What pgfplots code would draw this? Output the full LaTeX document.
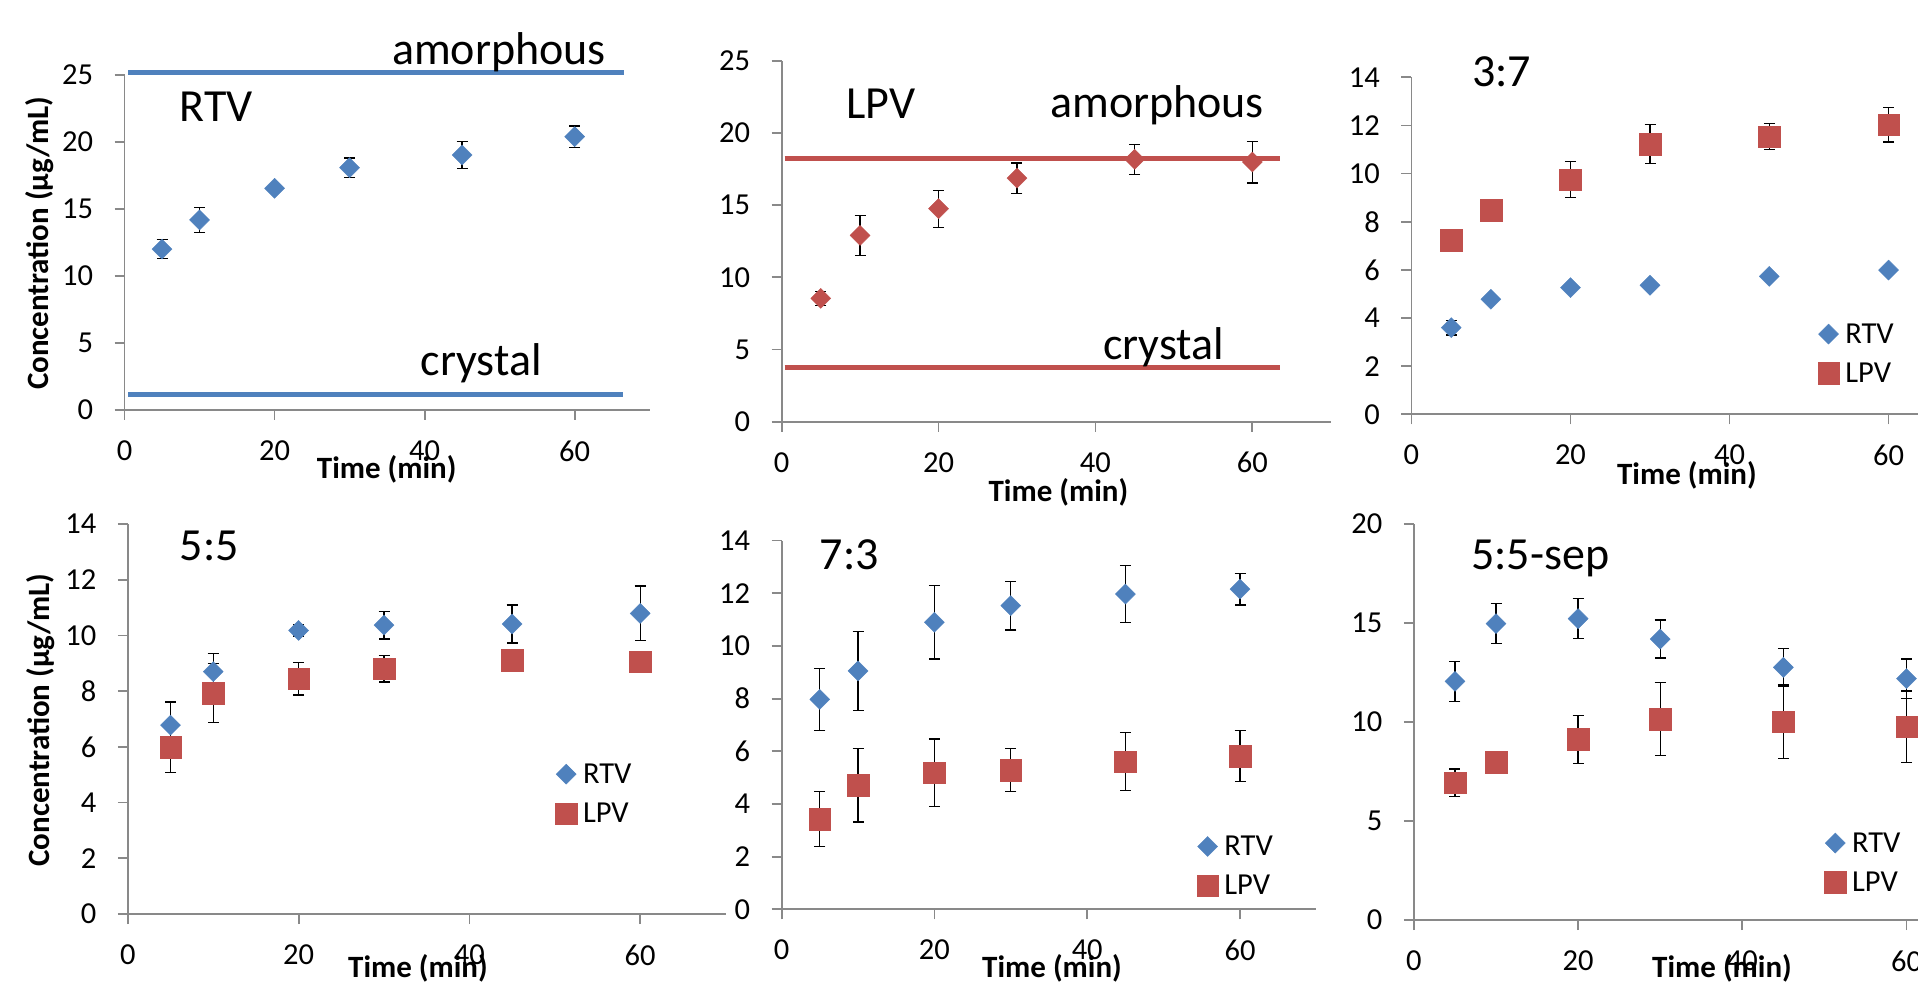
\documentclass[border=0pt]{standalone}
\usepackage{fontspec}
\setmainfont{Carlito}
\usepackage{pgfplots}
\pgfplotsset{compat=1.18}

\definecolor{xblue}{HTML}{4F81BD}
\definecolor{xred}{HTML}{C0504D}
\definecolor{axgray}{HTML}{898989}

\newcommand\tickfont{\fontsize{30.5}{36}\selectfont}
\newcommand\annfont{\fontsize{46}{55}\selectfont}
\newcommand\labfont{\fontsize{31}{37}\selectfont\bfseries}

% Excel-style diamond (as wide as it is tall)
\pgfdeclareplotmark{xdiamond}{%
  \pgfpathmoveto{\pgfqpoint{0pt}{\pgfplotmarksize}}%
  \pgfpathlineto{\pgfqpoint{\pgfplotmarksize}{0pt}}%
  \pgfpathlineto{\pgfqpoint{0pt}{-\pgfplotmarksize}}%
  \pgfpathlineto{\pgfqpoint{-\pgfplotmarksize}{0pt}}%
  \pgfpathclose
  \pgfusepathqfillstroke}

\pgfplotsset{
  panel/.style={
    scale only axis, anchor=south west,
    xmin=0, xmax=70, ymin=0,
    axis lines*=left,
    xtick={0,20,40,60},
    tick align=outside, major tick length=10pt,
    axis line style={axgray, line width=1.8pt},
    tick style={axgray, line width=1.8pt},
    tick label style={font=\tickfont, black},
    xticklabel style={yshift=-17pt},
    yticklabel style={xshift=-18pt},
    /pgf/number format/assume math mode=true,
    legend style={draw=none, fill=none, font=\tickfont, inner sep=0pt,
      row sep=18pt, column sep=6pt, nodes={inner sep=0pt}},
    legend cell align=left,
    legend image code/.code={\draw[##1] plot coordinates {(0pt,0pt)};},
  },
  ebar/.style={
    error bars/y dir=both, error bars/y explicit,
    error bars/error bar style={black, line width=1.3pt},
    error bars/error mark options={rotate=90, black, line width=1.3pt, mark size=5.5pt},
  },
  rtv/.style={only marks, mark=xdiamond, mark size=10pt,
    mark options={fill=xblue, draw=xblue, line width=0.4pt}, ebar},
  lpvd/.style={only marks, mark=xdiamond, mark size=10pt,
    mark options={fill=xred, draw=xred, line width=0.4pt}, ebar},
  lpv/.style={only marks, mark=square*, mark size=10.8pt,
    mark options={fill=xred, draw=xred, line width=0.4pt}, ebar},
}

\begin{document}
\begin{tikzpicture}
\path[use as bounding box] (0pt,0pt) rectangle (1918pt,985pt);

% ---- RTV alone
\begin{axis}[panel, at={(124.5pt,575pt)}, width=525.2pt, height=335.3pt,
  ymax=25, ytick={0,5,...,25}, clip=false]
\addplot[xblue, line width=4.5pt] coordinates {(0.5,25.18) (66.6,25.18)};
\addplot[xblue, line width=4.5pt] coordinates {(0.5,1.16) (66.4,1.16)};
\addplot[rtv] coordinates {(5,12.0) +- (0,0.7) (10,14.17) +- (0,0.95)
  (20,16.53) +- (0,0.3) (30,18.07) +- (0,0.72) (45,19.01) +- (0,1.0)
  (60,20.38) +- (0,0.8)};
\end{axis}

% ---- LPV alone
\begin{axis}[panel, at={(781.6pt,563.3pt)}, width=549.2pt, height=361pt,
  ymax=25, ytick={0,5,...,25}, clip=false]
\addplot[xred, line width=4.5pt] coordinates {(0.4,18.24) (63.5,18.24)};
\addplot[xred, line width=4.5pt] coordinates {(0.4,3.76) (63.5,3.76)};
\addplot[lpvd] coordinates {(5,8.54) +- (0,0.5) (10,12.9) +- (0,1.4)
  (20,14.75) +- (0,1.28) (30,16.87) +- (0,1.05) (45,18.17) +- (0,1.05)
  (60,17.98) +- (0,1.44)};
\end{axis}

% ---- 3:7
\begin{axis}[panel, at={(1411.4pt,570.7pt)}, width=556.7pt, height=337pt,
  ymax=14, ytick={0,2,...,14},
  legend style={at={(0.7295,0.270)}, anchor=north west}]
\addplot[rtv] coordinates {(5,3.60) +- (0,0.3) (10,4.78) +- (0,0.1)
  (20,5.26) +- (0,0.1) (30,5.36) +- (0,0.1) (45,5.73) +- (0,0.1)
  (60,5.99) +- (0,0.1)};
\addplot[lpv] coordinates {(5,7.24) +- (0,0.2) (10,8.47) +- (0,0.2)
  (20,9.75) +- (0,0.75) (30,11.23) +- (0,0.8) (45,11.54) +- (0,0.55)
  (60,12.03) +- (0,0.72)};
\legend{RTV,LPV}
\end{axis}

% ---- 5:5
\begin{axis}[panel, at={(127.8pt,71pt)}, width=597.8pt, height=390pt,
  ymax=14, ytick={0,2,...,14},
  legend style={at={(0.715,0.386)}, anchor=north west}]
\addplot[rtv] coordinates {(5,6.78) +- (0,0.83) (10,8.70) +- (0,0.65)
  (20,10.18) +- (0,0.2) (30,10.37) +- (0,0.5) (45,10.41) +- (0,0.68)
  (60,10.79) +- (0,0.98)};
\addplot[lpv] coordinates {(5,5.99) +- (0,0.92) (10,7.93) +- (0,1.06)
  (20,8.44) +- (0,0.58) (30,8.80) +- (0,0.47) (45,9.12) +- (0,0.3)
  (60,9.05) +- (0,0.3)};
\legend{RTV,LPV}
\end{axis}

% ---- 7:3
\begin{axis}[panel, at={(781.6pt,75.7pt)}, width=534.8pt, height=368.7pt,
  ymax=14, ytick={0,2,...,14},
  legend style={at={(0.776,0.1996)}, anchor=north west}]
\addplot[rtv] coordinates {(5,7.97) +- (0,1.18) (10,9.05) +- (0,1.5)
  (20,10.90) +- (0,1.4) (30,11.53) +- (0,0.93) (45,11.97) +- (0,1.09)
  (60,12.16) +- (0,0.6)};
\addplot[lpv] coordinates {(5,3.43) +- (0,1.05) (10,4.71) +- (0,1.4)
  (20,5.19) +- (0,1.28) (30,5.29) +- (0,0.82) (45,5.61) +- (0,1.1)
  (60,5.82) +- (0,0.97)};
\legend{RTV,LPV}
\end{axis}

% ---- 5:5-sep
\begin{axis}[panel, at={(1413.9pt,65pt)}, width=574.7pt, height=396pt,
  ymax=20, ytick={0,5,...,20},
  legend style={at={(0.714,0.2215)}, anchor=north west}]
\addplot[rtv] coordinates {(5,12.05) +- (0,1.0) (10,14.97) +- (0,1.0)
  (20,15.22) +- (0,1.0) (30,14.19) +- (0,0.96) (45,12.76) +- (0,0.94)
  (60,12.19) +- (0,0.99)};
\addplot[lpv] coordinates {(5,6.93) +- (0,0.7) (10,7.96) +- (0,0.3)
  (20,9.12) +- (0,1.2) (30,10.15) +- (0,1.85) (45,10.02) +- (0,1.85)
  (60,9.76) +- (0,1.8)};
\legend{RTV,LPV}
\end{axis}

% ---- annotations
\begin{scope}[every node/.style={inner sep=0pt}]
\node[font=\annfont, anchor=base west] at (179.6pt,863.3pt) {RTV};
\node[font=\annfont, anchor=base west] at (391.8pt,920pt) {amorphous};
\node[font=\annfont, anchor=base west] at (420.4pt,609.3pt) {crystal};
\node[font=\annfont, anchor=base west] at (846pt,866.7pt) {LPV};
\node[font=\annfont, anchor=base west] at (1050pt,867.7pt) {amorphous};
\node[font=\annfont, anchor=base west] at (1103pt,625pt) {crystal};
\node[font=\annfont, anchor=base west] at (1471.8pt,898.3pt) {3:7};
\node[font=\annfont, anchor=base west] at (179.6pt,424.3pt) {5:5};
\node[font=\annfont, anchor=base west] at (819.6pt,415pt) {7:3};
\node[font=\annfont, anchor=base west] at (1471pt,415pt) {5:5-sep};

\node[font=\labfont, anchor=base] at (386.7pt,506.7pt) {Time (min)};
\node[font=\labfont, anchor=base] at (1058.4pt,483.3pt) {Time (min)};
\node[font=\labfont, anchor=base] at (1686.9pt,500pt) {Time (min)};
\node[font=\labfont, anchor=base] at (418pt,8pt) {Time (min)};
\node[font=\labfont, anchor=base] at (1052pt,8pt) {Time (min)};
\node[font=\labfont, anchor=base] at (1722pt,8pt) {Time (min)};

\node[font=\labfont, rotate=90] at (39.6pt,741.7pt) {Concentration (µg/mL)};
\node[font=\labfont, rotate=90] at (40.8pt,265pt) {Concentration (µg/mL)};
\end{scope}
\end{tikzpicture}
\end{document}
